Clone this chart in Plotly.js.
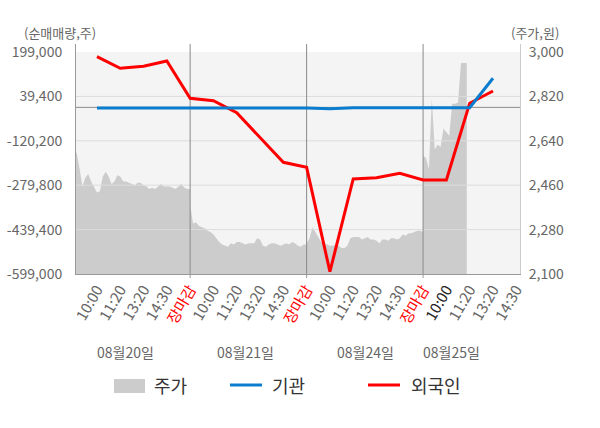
<!DOCTYPE html>
<html>
<head>
<meta charset="utf-8">
<script src="https://cdn.plot.ly/plotly-3.0.1.min.js"></script>
<style>
  body { margin: 0; background: #fff; }
  #Graph1 { width: 600px; height: 428px; }
</style>
</head>
<body>
<div id="Graph1"></div>
<script>
// 일별 주가 (장중, 일정 간격 샘플)
var day1_price = [2550, 2595, 2530, 2455, 2490, 2505, 2475, 2455, 2430, 2435, 2495, 2515, 2495, 2465, 2475, 2500, 2495, 2475, 2475, 2470,
                  2465, 2460, 2470, 2470, 2460, 2455, 2445, 2450, 2445, 2455, 2465, 2455, 2455, 2455, 2450, 2445, 2455, 2465, 2450, 2445, 2445]
var day2_price = [2380, 2305, 2310, 2295, 2290, 2285, 2275, 2270, 2260, 2245, 2230, 2220, 2215, 2210, 2225, 2220, 2230, 2230, 2225, 2220,
                  2225, 2225, 2225, 2245, 2240, 2215, 2210, 2220, 2225, 2225, 2220, 2215, 2220, 2225, 2220, 2230, 2225, 2215, 2210, 2220, 2220]
var day3_price = [2225, 2245, 2290, 2270, 2250, 2230, 2225, 2220, 2215, 2215, 2220, 2215, 2205, 2205, 2215, 2245, 2250, 2250, 2250, 2240,
                  2245, 2250, 2240, 2240, 2235, 2225, 2240, 2240, 2235, 2245, 2245, 2240, 2245, 2260, 2255, 2265, 2265, 2270, 2275, 2275, 2270]
var day4_price = [2580, 2570, 2525, 2810, 2605, 2625, 2615, 2690, 2675, 2660, 2790, 2790, 2795, 2955, 2955, 2955]

// 시간대별 순매매량 (10:00, 11:20, 13:20, 14:30, 장마감)
var foreign_net = [182100, 140400, 147600, 166600, 32600,
                   24000, -19100, -108300, -197500, -215500,
                   -590700, -257500, -252800, -237000, -261100,
                   -261100, 15000, 58800]
var institution_net = [-2000, -2000, -2000, -2000, -2000,
                       -2000, -2000, -2000, -2000, -2000,
                       -5000, -1500, -1500, -1500, -1500,
                       -1500, -1500, 104500]

var days = ["08월20일", "08월21일", "08월24일", "08월25일"]
var time_labels = ["10:00", "11:20", "13:20", "14:30", "장마감"]
var left_ticks = [-599000, -439400, -279800, -120200, 39400, 199000]
var right_ticks = [2100, 2280, 2460, 2640, 2820, 3000]

var slots = time_labels.length          // 하루 = 5칸
var step = slots / (day1_price.length - 1)
var font = "Noto Sans CJK KR, Noto Sans, sans-serif"

// 주가 x 좌표: 날짜 순서 + 장중 위치
var price_x = []
var price_y = []
var all_days = [day1_price, day2_price, day3_price, day4_price]
all_days.forEach(function (arr, d) {
    arr.forEach(function (v, i) {
        price_x.push(d * slots + i * step)
        price_y.push(v)
    })
})

var line_x = foreign_net.map(function (v, i) { return i + 1 })

// x 축 라벨
var tick_vals = []
var tick_text = []
for (let d = 0; d < days.length; d++) {
    for (let s = 0; s < slots; s++) {
        var pos = d * slots + s + 1
        if (pos > line_x.length + 1) break
        var label = time_labels[s]
        if (s == slots - 1) label = '<span style="color:#ff0000">' + label + '</span>'
        else if (d == days.length - 1 && s == 0) label = '<span style="color:#222">' + label + '</span>'
        tick_vals.push(pos)
        tick_text.push(label)
    }
}

function comma(v) {
    return v.toLocaleString("en-US")
}

var x_range = [0.1, 19.16]
var y_range = [-599000, 227800]
var boundaries = days.slice(1).map(function (d, i) { return (i + 1) * slots })

// 격자선은 주가 영역 위에 그려지도록 trace 로 처리
var hgrid_x = [], hgrid_y = []
left_ticks.slice(1, -1).forEach(function (t) {
    hgrid_x.push(x_range[0], x_range[1], null)
    hgrid_y.push(t, t, null)
})
var vgrid_x = [x_range[0], x_range[1], null], vgrid_y = [0, 0, null]   // 0 기준선
boundaries.forEach(function (b) {
    vgrid_x.push(b, b, null)
    vgrid_y.push(y_range[0], y_range[1], null)
})

var traces = [
    {
        x: price_x, y: price_y, yaxis: "y", name: "주가",
        type: "scatter", mode: "lines", fill: "tozeroy",
        fillcolor: "#cccccc", line: {color: "#cccccc", width: 0}
    },
    {x: hgrid_x, y: hgrid_y, yaxis: "y2", mode: "lines", line: {color: "#dcdcdc", width: 1}, hoverinfo: "skip"},
    {x: vgrid_x, y: vgrid_y, yaxis: "y2", mode: "lines", line: {color: "#8a8a8a", width: 1}, hoverinfo: "skip"},
    {
        x: line_x, y: foreign_net, yaxis: "y2", name: "외국인",
        type: "scatter", mode: "lines", line: {color: "#ff0000", width: 3}
    },
    {
        x: line_x, y: institution_net, yaxis: "y2", name: "기관",
        type: "scatter", mode: "lines", line: {color: "#0b7dce", width: 3}
    }
]

// 픽셀 -> paper 좌표
var M = {l: 76, r: 80, t: 44, b: 154}
function px(x) { return (x - M.l) / (600 - M.l - M.r) }
function py(y) { return (428 - M.b - y) / (428 - M.t - M.b) }

var shapes = [
    // 배경
    {type: "rect", xref: "paper", yref: "y2", x0: 0, x1: 1, y0: left_ticks[0], y1: left_ticks[left_ticks.length - 1],
     fillcolor: "#f4f4f4", line: {width: 0}, layer: "below"},
    // 범례
    {type: "rect", xref: "paper", yref: "paper", x0: px(114), x1: px(145), y0: py(393), y1: py(379),
     fillcolor: "#cccccc", line: {width: 0}},
    {type: "line", xref: "paper", yref: "paper", x0: px(230), x1: px(262), y0: py(385), y1: py(385),
     line: {color: "#0b7dce", width: 3}},
    {type: "line", xref: "paper", yref: "paper", x0: px(368), x1: px(400), y0: py(385), y1: py(385),
     line: {color: "#ff0000", width: 3}}
]
// 날짜 경계 눈금
boundaries.forEach(function (b) {
    shapes.push({type: "line", xref: "x", yref: "paper", x0: b, x1: b, y0: 0, y1: py(278),
                 line: {color: "#999", width: 1}})
})

var annotations = [
    {text: "(순매매량,주)", xref: "paper", yref: "paper", x: px(22), y: py(32), xanchor: "left", yanchor: "middle",
     showarrow: false, font: {size: 13, color: "#666"}},
    {text: "(주가,원)", xref: "paper", yref: "paper", x: px(509), y: py(32), xanchor: "left", yanchor: "middle",
     showarrow: false, font: {size: 13, color: "#666"}},
    {text: "주가", xref: "paper", yref: "paper", x: px(152), y: py(385), xanchor: "left", yanchor: "middle",
     showarrow: false, font: {size: 18, color: "#333"}},
    {text: "기관", xref: "paper", yref: "paper", x: px(270), y: py(385), xanchor: "left", yanchor: "middle",
     showarrow: false, font: {size: 18, color: "#333"}},
    {text: "외국인", xref: "paper", yref: "paper", x: px(409), y: py(385), xanchor: "left", yanchor: "middle",
     showarrow: false, font: {size: 18, color: "#333"}}
]
var date_pos = [2.21, 7.36, 12.51, 16.24]
days.forEach(function (d, i) {
    annotations.push({text: d, xref: "x", yref: "paper", x: date_pos[i], y: py(352), xanchor: "center", yanchor: "middle",
                      showarrow: false, font: {size: 14, color: "#666"}})
})

var layout = {
    width: 600, height: 428,
    margin: M,
    paper_bgcolor: "#fff",
    plot_bgcolor: "#fff",
    showlegend: false,
    font: {family: font, size: 14, color: "#666"},
    xaxis: {
        range: x_range, tickmode: "array", tickvals: tick_vals, ticktext: tick_text,
        tickangle: -60, ticks: "", showgrid: false, zeroline: false,
        showline: true, linecolor: "#999", linewidth: 1,
        tickfont: {size: 15, color: "#666"}
    },
    // 주가 (오른쪽)
    yaxis: {
        side: "right", range: [2100, 3032.4], tickmode: "array",
        tickvals: right_ticks, ticktext: right_ticks.map(comma),
        showgrid: false, zeroline: false,
        showline: true, linecolor: "#cccccc", linewidth: 1,
        ticks: "", ticklabelstandoff: 5,
        tickfont: {size: 14, color: "#666"}
    },
    // 순매매량 (왼쪽)
    yaxis2: {
        overlaying: "y", side: "left", range: y_range, tickmode: "array",
        tickvals: left_ticks, ticktext: left_ticks.map(comma),
        showgrid: false, zeroline: false,
        showline: true, linecolor: "#999", linewidth: 1,
        ticks: "", ticklabelstandoff: 10,
        tickfont: {size: 14, color: "#666"}
    },
    shapes: shapes,
    annotations: annotations
}

Plotly.newPlot("Graph1", traces, layout, {displayModeBar: false, staticPlot: true})
</script>
</body>
</html>
